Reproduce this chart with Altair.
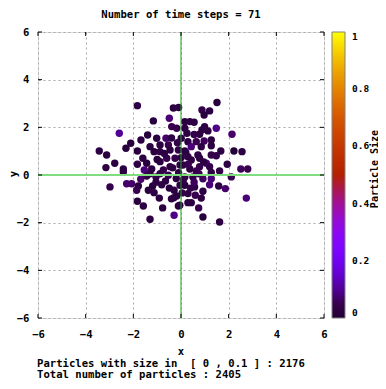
import altair as alt
import pandas as pd
import numpy as np

# ---- data ----
px = [-1.83, -0.32, -0.10, 1.51, 0.88, 1.20, 0.97, -1.16, -0.49, -0.39, -0.18, -2.59,
      0.16, 0.37, 0.55, 0.16, 0.99, 0.88, 1.13, 1.48, 2.14, 0.78, -1.68, -1.40, -2.11,
      -2.31, -1.02, -0.63, -1.30, -0.88, -0.53, 0.01, 0.29, 0.64, 0.97, 1.27, 0.43, 0.85,
      1.27, 1.67, 2.22, 2.56, 0.16, 0.71, 1.27, 1.48, 0.29, 1.94, 2.51, 2.80, 0.01, 0.43,
      0.78, 1.06, 0.78, 0.08, 0.37, 1.27, 1.62, 0.64, -3.43, -3.12, -1.83, -1.13, -0.88,
      -0.46, -0.11, -3.15, -2.78, -2.42, -1.83, -1.44, -1.54, -1.23, -0.88, -0.60, -0.25,
      -0.46, -0.04, -0.74, -2.42, -2.98, -2.28, -2.07, -1.79, -1.69, -1.86, -1.37, -1.19,
      -1.05, -0.81, -0.49, -0.29, -0.04, -1.13, -0.91, -0.18, -1.83, -1.58, -0.77, -0.11,
      -0.29, -1.30, -1.44, -1.30, -0.88, -0.53, 0.16, 0.50, 0.92, 1.27, 1.20, 1.58, 1.86,
      2.11, 2.74, 0.57, 0.92, 0.29, 0.43, 0.85, 0.74, -0.05, 0.92, 1.62, 0.16, 0.29,
      0.10, -0.20, 0.30, -0.35, 0.55, -0.65, 0.05, -0.40, 0.60, 0.20, -0.15, -0.40, 0.25,
      0.55, -0.70, -1.00, -1.05, 0.75, -0.30, 0.40, -0.10, 0.95, 1.20, -1.60]
py = [2.91, 2.81, 2.83, 3.04, 2.73, 2.69, 2.52, 2.27, 2.38, 2.03, 1.96, 1.75,
      2.24, 2.24, 2.21, 1.96, 2.03, 1.89, 1.85, 1.96, 1.71, 1.71, 1.47, 1.68, 1.33,
      1.12, 1.54, 1.54, 1.19, 1.26, 1.26, 1.54, 1.40, 1.40, 1.43, 1.47, 1.19, 1.19,
      1.23, 1.01, 1.01, 0.98, 1.01, 0.84, 0.84, 0.81, 0.77, 0.45, 0.25, 0.25, 0.73, 0.63,
      0.70, 0.49, 0.35, 0.42, 0.25, 0.11, 0.17, 0.17, 1.01, 0.84, 1.01, 0.98, 0.98,
      1.05, 1.05, 0.31, 0.49, 0.25, 0.45, 0.49, 0.21, 0.25, 0.56, 0.70, 0.70,
      0.35, 0.42, 0.21, 0.13, -0.50, -0.37, -0.37, -0.46, -0.18, -0.64, -0.64, -0.46,
      -0.08, -0.41, -0.55, -0.64, -0.43, -0.74, -0.97, -0.88, -1.10, -1.30, -1.38, -1.30,
      -1.69, -1.86, -0.04, 0.05, 0.05, -0.01, -0.08, -0.08, -0.16, -0.16, -0.41, -0.46, -0.57,
      -0.08, -0.97, -0.50, -0.68, -0.78, -1.16, -0.97, -1.38, -1.27, -1.76, -1.97, -0.43, -1.16,
      -0.20, -0.15, 0.45, 0.30, -0.30, -0.25, -0.75, -1.00, -0.85, 0.95, 1.35, 1.55, 1.75,
      1.70, 0.90, 0.65, -0.30, 0.05, -0.95, -0.55, 0.10, 0.55, 0.35, 0.70]
psize = [0.03, 0.03, 0.03, 0.02, 0.04, 0.03, 0.02, 0.02, 0.08, 0.05, 0.04, 0.10,
         0.03, 0.03, 0.03, 0.03, 0.03, 0.03, 0.03, 0.09, 0.07, 0.03, 0.03, 0.02, 0.02,
         0.02, 0.03, 0.07, 0.03, 0.03, 0.05, 0.03, 0.03, 0.05, 0.06, 0.03, 0.08, 0.03,
         0.03, 0.03, 0.005, 0.03, 0.03, 0.03, 0.04, 0.04, 0.03, 0.03, 0.06, 0.05, 0.03, 0.03,
         0.03, 0.08, 0.05, 0.03, 0.03, 0.03, 0.04, 0.05, 0.03, 0.02, 0.02, 0.02, 0.03,
         0.03, 0.04, 0.03, 0.03, 0.03, 0.03, 0.02, 0.08, 0.03, 0.03, 0.05, 0.04,
         0.03, 0.03, 0.04, 0.03, 0.04, 0.07, 0.07, 0.02, 0.07, 0.05, 0.03, 0.02,
         0.04, 0.03, 0.02, 0.03, 0.03, 0.03, 0.03, 0.02, 0.02, 0.03, 0.03, 0.02,
         0.09, 0.03, 0.04, 0.03, 0.04, 0.05, 0.03, 0.03, 0.06, 0.08, 0.08, 0.03, 0.07,
         0.05, 0.08, 0.03, 0.03, 0.03, 0.03, 0.03, 0.05, 0.03, 0.02, 0.03, 0.02, 0.03,
         0.04, 0.03, 0.05, 0.03, 0.06, 0.03, 0.04, 0.03, 0.05, 0.03, 0.04, 0.03, 0.03,
         0.04, 0.03, 0.02, 0.03, 0.05, 0.03, 0.04, 0.03, 0.03, 0.04, 0.03]

ticks = [-6, -4, -2, 0, 2, 4, 6]
legend_ticks = [0, 0.2, 0.4, 0.6, 0.8, 1]
title_text = "Number of time steps = 71"
line1 = "Particles with size in \u00a0[ 0 , 0.1 ] : 2176"
line2 = "Total number of particles : 2405"

# gnuplot default palette (rgbformulae 7,5,15)
stops = np.linspace(0, 1, 21)
r = np.sqrt(stops)
g = stops ** 3
b = np.clip(np.sin(2 * np.pi * stops), 0, 1)
pal = ['#%02x%02x%02x' % (int(round(a * 255)), int(round(c * 255)), int(round(d * 255)))
       for a, c, d in zip(r, g, b)]

df = pd.DataFrame({"x": px, "y": py, "s": psize})
FONT = "DejaVu Sans Mono"
FS = 10.6
W = 286

sc = alt.Scale(domain=[-6, 6], nice=False, zero=False)
xax = alt.Axis(values=ticks, grid=True, gridDash=[2, 3], gridColor="#a8a8a8", gridWidth=1,
               domain=False, ticks=False, tickSize=0, labelFont=FONT, labelFontWeight="bold",
               labelFontSize=FS, labelColor="black", labelPadding=11, labelFlush=False,
               labelOverlap=False, title=None)
yax = alt.Axis(values=ticks, grid=True, gridDash=[2, 3], gridColor="#a8a8a8", gridWidth=1,
               domain=False, ticks=False, tickSize=0, labelFont=FONT, labelFontWeight="bold",
               labelFontSize=FS, labelColor="black", labelPadding=9, labelFlush=False,
               labelOverlap=False, title=None)

points = alt.Chart(df).mark_circle(size=55, opacity=1).encode(
    x=alt.X("x:Q", scale=sc, axis=xax),
    y=alt.Y("y:Q", scale=sc, axis=yax),
    color=alt.Color("s:Q",
                    scale=alt.Scale(domain=list(stops), range=pal),
                    legend=alt.Legend(orient="none", legendX=294, legendY=0,
                                      direction="vertical", gradientLength=W,
                                      gradientThickness=13, gradientStrokeColor="#808080",
                                      gradientStrokeWidth=1, values=legend_ticks,
                                      format=".1~f", labelFont=FONT, labelFontWeight="bold",
                                      labelFontSize=9.5, labelColor="black", labelOffset=7,
                                      labelBaseline="middle", labelOverlap=False,
                                      title=None, padding=0, offset=0)),
)

hline = alt.Chart(pd.DataFrame({"y": [0]})).mark_rule(color="#7fdc7f", strokeWidth=2).encode(
    y=alt.Y("y:Q", scale=sc, axis=yax))
vline = alt.Chart(pd.DataFrame({"x": [0]})).mark_rule(color="#1fa01f", strokeWidth=1).encode(
    x=alt.X("x:Q", scale=sc, axis=xax))

tdf = pd.DataFrame({"t": ticks})
tick_b = alt.Chart(tdf).mark_rule(color="black").encode(
    x=alt.X("t:Q", scale=sc, axis=xax), y=alt.value(W), y2=alt.value(W - 4))
tick_t = alt.Chart(tdf).mark_rule(color="black").encode(
    x=alt.X("t:Q", scale=sc, axis=xax), y=alt.value(0), y2=alt.value(4))
tick_l = alt.Chart(tdf).mark_rule(color="black").encode(
    y=alt.Y("t:Q", scale=sc, axis=yax), x=alt.value(0), x2=alt.value(4))
tick_r = alt.Chart(tdf).mark_rule(color="black").encode(
    y=alt.Y("t:Q", scale=sc, axis=yax), x=alt.value(W), x2=alt.value(W - 4))


def label(text, x, y, align="center", angle=0, fs=FS):
    return alt.Chart(pd.DataFrame({"t": [text]})).mark_text(
        font=FONT, fontWeight="bold", fontSize=fs, color="black", align=align,
        baseline="middle", angle=angle).encode(text="t:N", x=alt.value(x), y=alt.value(y))


texts = (label(title_text, 143, -17) + label("x", 143, 320) +
         label("y", -24, 142, angle=270) +
         label("Particle Size", 336.5, 137, angle=270, fs=10) +
         label(line1, -1, 332, align="left") + label(line2, -1, 342.5, align="left"))

chart = alt.layer(points, hline, vline, tick_b, tick_t, tick_l, tick_r, texts).properties(
    width=W, height=W, autosize=alt.AutoSizeParams(type="none"),
    padding={"left": 30, "top": 24, "right": 54, "bottom": 62},
).configure_view(stroke="black", strokeWidth=1).configure(background="white")

chart.save("out.html", embed_options={"renderer": "svg", "actions": False})
